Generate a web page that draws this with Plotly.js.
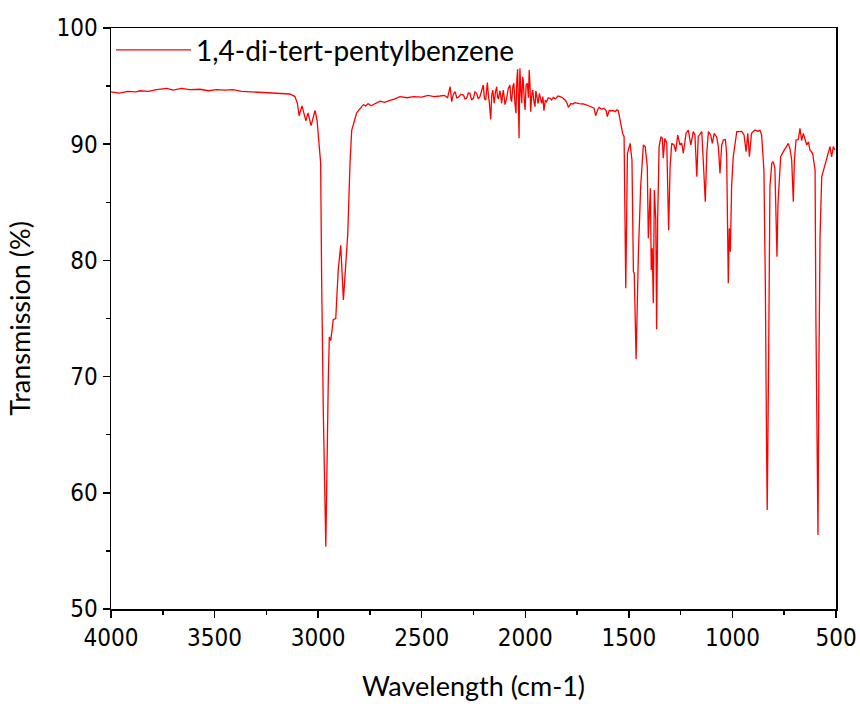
<!DOCTYPE html>
<html>
<head>
<meta charset="utf-8">
<script src="https://cdn.plot.ly/plotly-3.0.1.min.js"></script>
<style>html,body{margin:0;padding:0;background:#fff;}#chart{width:860px;height:704px;}</style>
</head>
<body>
<div id="chart"></div>
<script>
// Wavenumber (cm-1) and transmission (%)
const wavenumber = [
4000,3960,3920,3880,3860,3820,3780,3731,3700,3660,3620,3570,3530,3490,3450,3411,3370,3330,3290,3248,3200,3160,3136,3112,3100,
3092,3078,3059,3049,3034,3015,3005,2996,2988,2983,2975,2963,2959,2951,2946,2939,2927,2915,2903,2891,2878,2865,2857,2846,2838,
2814,2782,2770,2759,2745,2735,2701,2680,2653,2630,2605,2570,2540,2500,2470,2440,2412,2390,2375,2363,2355,2347,2339,2331,2323,
2311,2299,2291,2283,2275,2267,2259,2251,2243,2235,2227,2219,2211,2203,2197,2191,2187,2183,2178,2174,2167,2162,2157,2153,2150,
2144,2138,2134,2130,2122,2114,2110,2106,2098,2090,2082,2074,2070,2066,2060,2055,2050,2045,2041,2037,2033,2030,2028,2026,2021,
2017,2013,2010,2005,2001,1996,1990,1985,1981,1977,1974,1969,1964,1958,1953,1949,1945,1938,1932,1926,1921,1915,1910,1903,1897,
1889,1881,1873,1865,1855,1842,1832,1820,1808,1800,1792,1780,1770,1760,1740,1720,1700,1679,1668,1660,1650,1643,1630,1620,1610,
1604,1595,1588,1575,1567,1558,1551,1543,1530,1523,1519,1515,1511,1507,1494,1485,1478,1474,1465,1454,1443,1430,1421,1411,1406,
1401,1396,1392,1387,1382,1377,1370,1366,1361,1354,1345,1338,1334,1326,1317,1308,1301,1293,1282,1274,1264,1253,1245,1237,1224,
1213,1201,1189,1181,1172,1165,1148,1141,1136,1131,1124,1116,1105,1097,1088,1076,1068,1060,1052,1044,1034,1028,1020,1015,1010,
1004,996,979,955,944,934,926,918,908,891,877,867,859,848,841,835,832,825,819,810,803,795,790,785,780,
774,767,754,741,730,722,714,706,701,693,682,674,666,658,650,641,633,626,613,601,597,590,587,582,577,
569,558,548,537,529,521,513,505
];
const transmission = [
94.5,94.4,94.55,94.5,94.6,94.55,94.7,94.8,94.65,94.8,94.7,94.73,94.6,94.7,94.65,94.7,94.55,94.5,94.5,94.44,94.4,94.3,94.32,94.1,93.5,
92.45,93.3,92.0,92.7,91.6,92.9,92.0,90.4,88.4,78.3,66.9,55.36,61.1,69.7,73.4,73.1,74.9,75.0,79.2,81.3,76.6,80.6,82.3,88.4,91.2,
92.7,93.4,93.3,93.5,93.3,93.4,93.7,93.6,93.75,93.9,94.1,94.0,94.1,94.05,94.2,94.1,94.15,94.2,94.0,94.95,93.66,94.3,94.52,94.0,94.03,
94.3,94.23,93.9,93.95,94.4,94.38,93.8,93.95,94.5,94.38,93.9,94.09,94.6,95.09,93.9,93.8,94.6,95.3,94.2,93.66,92.14,94.2,94.66,93.9,93.52,
94.5,94.95,94.0,93.95,94.6,93.52,94.2,94.66,93.4,93.95,94.8,95.09,93.9,93.66,95.0,95.24,93.5,92.66,95.5,96.44,93.2,90.51,94.0,96.53,94.5,
93.52,95.8,95.52,93.8,92.94,95.1,95.24,94.0,96.39,95.0,92.8,94.2,94.66,93.6,93.23,94.6,94.09,93.5,94.38,93.9,93.52,94.1,92.89,93.8,93.66,
94.0,93.95,93.8,94.03,93.9,94.15,94.09,94.0,93.8,93.6,93.17,93.5,93.45,93.57,93.5,93.46,93.35,93.23,93.1,92.45,93.0,93.17,93.0,93.09,92.9,
92.37,92.9,92.88,92.9,92.8,92.95,92.88,92.08,90.93,90.65,85.0,77.6,83.0,89.2,90.07,88.64,79.03,78.9,71.49,80.6,86.34,89.93,89.79,88.07,81.9,
84.62,86.2,79.17,81.04,76.31,86.06,83.48,74.07,83.5,89.79,90.65,90.5,88.79,90.5,90.1,82.6,88.0,90.07,89.93,89.36,90.79,89.93,90.1,89.22,90.93,
91.22,89.93,91.08,90.8,87.2,90.65,91.08,88.64,86.06,85.05,89.22,91.08,90.8,90.07,90.93,90.6,89.79,87.49,89.9,90.36,90.4,89.22,78.03,82.76,80.75,
86.34,88.93,91.08,91.1,90.8,89.36,90.93,88.93,90.93,91.22,91.1,91.2,90.79,87.78,77.74,63.4,58.52,72.0,86.34,88.35,88.5,87.93,84.91,80.32,84.9,
87.35,88.93,89.36,89.79,90.07,89.6,88.64,85.05,88.6,90.36,90.4,91.37,90.3,90.93,90.4,89.93,90.2,89.5,89.22,87.78,74.87,60.24,56.37,72.0,82.04,
87.2,87.93,88.35,89.22,89.79,88.9,89.79,89.5
];
const seriesName = '1,4-di-tert-pentylbenzene';
const xTitle = 'Wavelength (cm-1)';
const yTitle = 'Transmission (%)';

const tickFont = {family: '"Liberation Sans Narrow", "Arial Narrow", "DejaVu Sans Condensed", "Liberation Sans", sans-serif', size: 24, color: '#000'};
const titleFont = {family: 'Lato, "Open Sans", sans-serif', size: 27, color: '#000'};
const legendFont = {family: 'Lato, "Open Sans", sans-serif', size: 28, color: '#000'};

const trace = {
  x: wavenumber, y: transmission, type: 'scatter', mode: 'lines',
  name: seriesName, line: {color: '#ff0000', width: 1.3}
};

const axisCommon = {
  showgrid: false, zeroline: false, showline: true, linecolor: '#000', linewidth: 1.5, mirror: true,
  ticks: 'outside', ticklen: 7, tickwidth: 1.5, tickcolor: '#000', tickfont: tickFont
};

const layout = {
  width: 860, height: 704,
  margin: {l: 111, r: 24, t: 28, b: 95},
  paper_bgcolor: '#fff', plot_bgcolor: '#fff',
  showlegend: true,
  legend: {x: 0, y: 1.005, xanchor: 'left', yanchor: 'top', bgcolor: 'rgba(0,0,0,0)', font: legendFont, itemwidth: 75},
  xaxis: Object.assign({}, axisCommon, {
    range: [4000, 500], tickmode: 'linear', tick0: 500, dtick: 500,
    minor: {dtick: 250, ticks: 'outside', ticklen: 4, tickwidth: 1.5, tickcolor: '#000'},
    title: {text: xTitle, font: titleFont, standoff: 26}
  }),
  yaxis: Object.assign({}, axisCommon, {
    range: [50, 100], tickmode: 'linear', tick0: 50, dtick: 10,
    minor: {dtick: 5, ticks: 'outside', ticklen: 4, tickwidth: 1.5, tickcolor: '#000'},
    title: {text: yTitle, font: titleFont, standoff: 18}
  })
};

Plotly.newPlot('chart', [trace], layout, {displayModeBar: false, staticPlot: true});
</script>
</body>
</html>
